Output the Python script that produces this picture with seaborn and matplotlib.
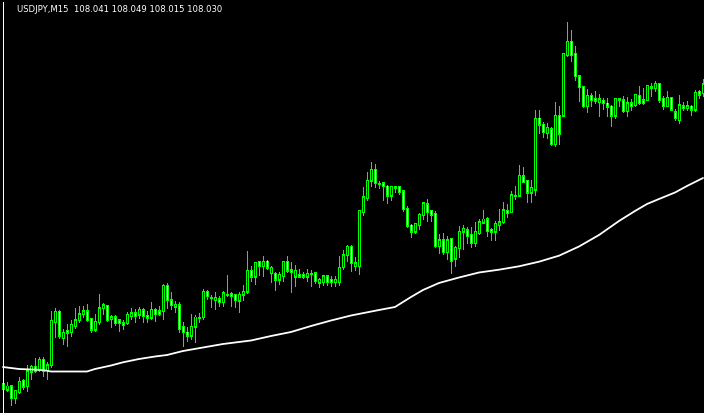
import numpy as np
import pandas as pd
import matplotlib
matplotlib.use("Agg")
import matplotlib.pyplot as plt
from matplotlib.lines import Line2D
import seaborn as sns

title_text = "USDJPY,M15  108.041 108.049 108.015 108.030"

opens = [107.730, 107.724, 107.728, 107.716, 107.722, 107.733, 107.728, 107.742, 107.747, 107.744,
         107.754, 107.744, 107.749, 107.792, 107.802, 107.776, 107.783, 107.782, 107.788, 107.794,
         107.800, 107.803, 107.795, 107.784, 107.792, 107.806, 107.808, 107.795, 107.797, 107.794,
         107.791, 107.791, 107.798, 107.801, 107.799, 107.804, 107.798, 107.796, 107.804, 107.803,
         107.802, 107.828, 107.814, 107.807, 107.809, 107.787, 107.782, 107.778, 107.787, 107.796,
         107.797, 107.822, 107.817, 107.814, 107.815, 107.812, 107.819, 107.820, 107.819, 107.813,
         107.819, 107.822, 107.843, 107.837, 107.852, 107.848, 107.853, 107.841, 107.840, 107.834,
         107.838, 107.852, 107.844, 107.837, 107.839, 107.839, 107.837, 107.841, 107.841, 107.831,
         107.832, 107.838, 107.834, 107.832, 107.832, 107.847, 107.859, 107.867, 107.848, 107.848,
         107.902, 107.916, 107.933, 107.944, 107.931, 107.931, 107.928, 107.918, 107.926, 107.927,
         107.923, 107.905, 107.889, 107.882, 107.889, 107.899, 107.910, 107.903, 107.900, 107.868,
         107.874, 107.862, 107.875, 107.855, 107.866, 107.882, 107.884, 107.879, 107.871, 107.881,
         107.891, 107.895, 107.884, 107.882, 107.889, 107.892, 107.903, 107.902, 107.918, 107.918,
         107.938, 107.933, 107.921, 107.924, 107.996, 107.989, 107.981, 107.985, 107.970, 107.998,
         107.998, 108.059, 108.072, 108.060, 108.038, 108.027, 108.008, 108.018, 108.015, 108.012,
         108.013, 108.011, 108.008, 107.998, 108.014, 108.014, 108.003, 108.011, 108.009, 108.018,
         108.014, 108.014, 108.027, 108.026, 108.030, 108.015, 108.008, 108.016, 108.002, 107.994,
         108.008, 108.006, 108.008, 108.004, 108.022, 108.021]

highs = [107.735, 107.732, 107.729, 107.724, 107.737, 107.735, 107.749, 107.749, 107.756, 107.757,
         107.757, 107.752, 107.803, 107.806, 107.804, 107.785, 107.790, 107.794, 107.806, 107.808,
         107.808, 107.810, 107.796, 107.800, 107.820, 107.811, 107.809, 107.799, 107.799, 107.795,
         107.794, 107.802, 107.806, 107.805, 107.807, 107.806, 107.803, 107.812, 107.806, 107.808,
         107.830, 107.831, 107.822, 107.813, 107.812, 107.792, 107.787, 107.800, 107.799, 107.801,
         107.825, 107.824, 107.819, 107.822, 107.818, 107.823, 107.839, 107.822, 107.820, 107.822,
         107.829, 107.863, 107.848, 107.852, 107.853, 107.858, 107.854, 107.848, 107.842, 107.842,
         107.853, 107.858, 107.852, 107.849, 107.845, 107.842, 107.845, 107.844, 107.841, 107.836,
         107.839, 107.839, 107.838, 107.838, 107.858, 107.864, 107.869, 107.869, 107.857, 107.904,
         107.927, 107.942, 107.952, 107.950, 107.933, 107.932, 107.929, 107.928, 107.928, 107.928,
         107.924, 107.908, 107.890, 107.891, 107.901, 107.912, 107.915, 107.904, 107.903, 107.880,
         107.881, 107.878, 107.876, 107.868, 107.888, 107.889, 107.887, 107.887, 107.892, 107.895,
         107.904, 107.897, 107.886, 107.893, 107.905, 107.912, 107.910, 107.923, 107.928, 107.949,
         107.947, 107.933, 107.934, 108.004, 108.004, 107.992, 107.991, 107.987, 108.012, 108.008,
         108.060, 108.092, 108.084, 108.068, 108.039, 108.028, 108.025, 108.021, 108.023, 108.020,
         108.016, 108.016, 108.009, 108.016, 108.016, 108.018, 108.017, 108.015, 108.020, 108.028,
         108.026, 108.028, 108.031, 108.033, 108.031, 108.018, 108.023, 108.017, 108.005, 108.019,
         108.012, 108.013, 108.009, 108.024, 108.024, 108.035]

lows = [107.722, 107.723, 107.709, 107.711, 107.721, 107.725, 107.723, 107.735, 107.742, 107.743,
        107.738, 107.735, 107.747, 107.777, 107.776, 107.770, 107.768, 107.778, 107.786, 107.792,
        107.797, 107.793, 107.782, 107.783, 107.790, 107.800, 107.793, 107.787, 107.789, 107.783,
        107.785, 107.790, 107.795, 107.792, 107.796, 107.792, 107.792, 107.795, 107.793, 107.799,
        107.795, 107.806, 107.805, 107.802, 107.782, 107.768, 107.773, 107.775, 107.772, 107.792,
        107.795, 107.815, 107.807, 107.805, 107.808, 107.808, 107.818, 107.808, 107.807, 107.802,
        107.814, 107.821, 107.833, 107.830, 107.839, 107.838, 107.845, 107.832, 107.824, 107.830,
        107.833, 107.842, 107.822, 107.828, 107.837, 107.836, 107.833, 107.828, 107.831, 107.827,
        107.829, 107.829, 107.828, 107.828, 107.829, 107.845, 107.853, 107.843, 107.844, 107.840,
        107.899, 107.914, 107.928, 107.927, 107.926, 107.914, 107.911, 107.914, 107.922, 107.920,
        107.903, 107.887, 107.877, 107.881, 107.885, 107.895, 107.893, 107.893, 107.867, 107.861,
        107.860, 107.855, 107.841, 107.848, 107.857, 107.865, 107.871, 107.867, 107.868, 107.880,
        107.891, 107.878, 107.874, 107.874, 107.884, 107.891, 107.897, 107.902, 107.915, 107.918,
        107.932, 107.912, 107.912, 107.919, 107.981, 107.977, 107.976, 107.969, 107.968, 107.970,
        107.998, 108.058, 108.053, 108.034, 108.013, 108.007, 108.002, 108.008, 108.011, 107.998,
        108.005, 107.998, 107.988, 107.996, 108.008, 108.002, 107.998, 108.004, 108.008, 108.010,
        108.010, 108.014, 108.018, 108.023, 108.012, 108.005, 108.008, 108.004, 107.994, 107.991,
        108.004, 108.004, 107.999, 108.003, 108.016, 108.018]

closes = [107.725, 107.728, 107.716, 107.723, 107.732, 107.727, 107.743, 107.747, 107.743, 107.754,
          107.743, 107.749, 107.793, 107.802, 107.778, 107.781, 107.781, 107.789, 107.794, 107.800,
          107.803, 107.794, 107.784, 107.792, 107.806, 107.809, 107.794, 107.797, 107.791, 107.791,
          107.789, 107.799, 107.801, 107.798, 107.804, 107.798, 107.796, 107.804, 107.800, 107.800,
          107.828, 107.814, 107.808, 107.809, 107.785, 107.782, 107.778, 107.787, 107.797, 107.797,
          107.822, 107.818, 107.816, 107.816, 107.812, 107.821, 107.820, 107.818, 107.814, 107.819,
          107.822, 107.843, 107.837, 107.851, 107.848, 107.852, 107.846, 107.846, 107.834, 107.839,
          107.852, 107.843, 107.842, 107.843, 107.837, 107.837, 107.840, 107.840, 107.833, 107.834,
          107.838, 107.832, 107.832, 107.834, 107.846, 107.859, 107.867, 107.851, 107.851, 107.903,
          107.917, 107.933, 107.944, 107.931, 107.930, 107.928, 107.918, 107.927, 107.927, 107.922,
          107.905, 107.888, 107.882, 107.890, 107.899, 107.911, 107.902, 107.899, 107.868, 107.874,
          107.862, 107.874, 107.853, 107.866, 107.882, 107.885, 107.878, 107.871, 107.882, 107.892,
          107.895, 107.883, 107.882, 107.890, 107.892, 107.904, 107.901, 107.919, 107.919, 107.938,
          107.932, 107.921, 107.926, 107.996, 107.989, 107.982, 107.986, 107.970, 107.998, 107.980,
          108.060, 108.072, 108.059, 108.038, 108.027, 108.008, 108.018, 108.014, 108.013, 108.015,
          108.011, 108.007, 107.998, 108.015, 108.015, 108.003, 108.011, 108.008, 108.019, 108.011,
          108.011, 108.028, 108.026, 108.030, 108.014, 108.008, 108.016, 108.004, 107.996, 108.009,
          108.006, 108.008, 108.004, 108.021, 108.019, 108.030]

ma_bar = [0, 2, 4, 10, 12, 21, 23, 27, 30, 34, 38, 41, 45, 50, 55, 62, 67, 72, 77, 82, 87,
          94, 98, 102, 105, 109, 114, 119, 124, 129, 134, 139, 144, 149, 154, 158, 161, 164,
          168, 171, 175]
ma_value = [107.747, 107.746, 107.745, 107.744, 107.7425, 107.7425, 107.745, 107.7485, 107.7517,
            107.755, 107.7575, 107.759, 107.763, 107.7665, 107.770, 107.7735, 107.778, 107.782,
            107.788, 107.7935, 107.7985, 107.804, 107.807, 107.817, 107.824, 107.831, 107.8365,
            107.8415, 107.8443, 107.8477, 107.8523, 107.8583, 107.8675, 107.879, 107.893, 107.903,
            107.910, 107.915, 107.9215, 107.928, 107.936]

sns.set_theme(style="dark")
plt.rcParams["font.family"] = ["DejaVu Sans"]

W, H = 704, 414
Y_TOP, Y_SPAN = 108.115, 0.414
PX = Y_SPAN / H  # price per pixel

fig = plt.figure(figsize=(W / 100, H / 100), dpi=100, facecolor="black")
ax = fig.add_axes([0, 0, 1, 1])
ax.set_facecolor("black")

df = pd.DataFrame({"o": opens, "h": highs, "l": lows, "c": closes})
df["bar"] = np.arange(len(df))
up = (df["c"] >= df["o"]).to_numpy()

lime = "#00FF00"
# wicks
ax.vlines(df["bar"], df["l"], df["h"], color=lime, linewidth=0.72, zorder=2, antialiased=False)

# bodies: lime outline (3 px) with 1 px interior fill
bot = np.minimum(df["o"], df["c"]).to_numpy()
top = np.maximum(df["o"], df["c"]).to_numpy()
ax.bar(df["bar"], (top - bot) + PX, bottom=bot - PX / 2, width=0.75,
       color=lime, linewidth=0, zorder=3, antialiased=False)
inner = (top - bot) > 1.5 * PX
fill = np.where(up, "black", "white")
ax.bar(df["bar"][inner], (top - bot)[inner] - PX, bottom=bot[inner] + PX / 2, width=0.25,
       color=list(fill[inner]), linewidth=0, zorder=4, antialiased=False)

# moving average
ma_df = pd.DataFrame({"bar": ma_bar, "ma": ma_value})
sns.lineplot(data=ma_df, x="bar", y="ma", ax=ax, color="white", linewidth=1.3, zorder=5)

ax.set_xlim(-0.75, 175.25)
ax.set_ylim(Y_TOP - Y_SPAN, Y_TOP)
ax.axis("off")

fig.add_artist(Line2D([2.5 / W, 2.5 / W], [0, 1 - 3 / H], transform=fig.transFigure,
                      color="white", linewidth=0.72, antialiased=False))
fig.text(17 / W, 1 - 9.5 / H, title_text, color="white", fontsize=6.1,
         ha="left", va="center", family=["DejaVu Sans"])

fig.savefig("out.png", dpi=100, facecolor="black")
